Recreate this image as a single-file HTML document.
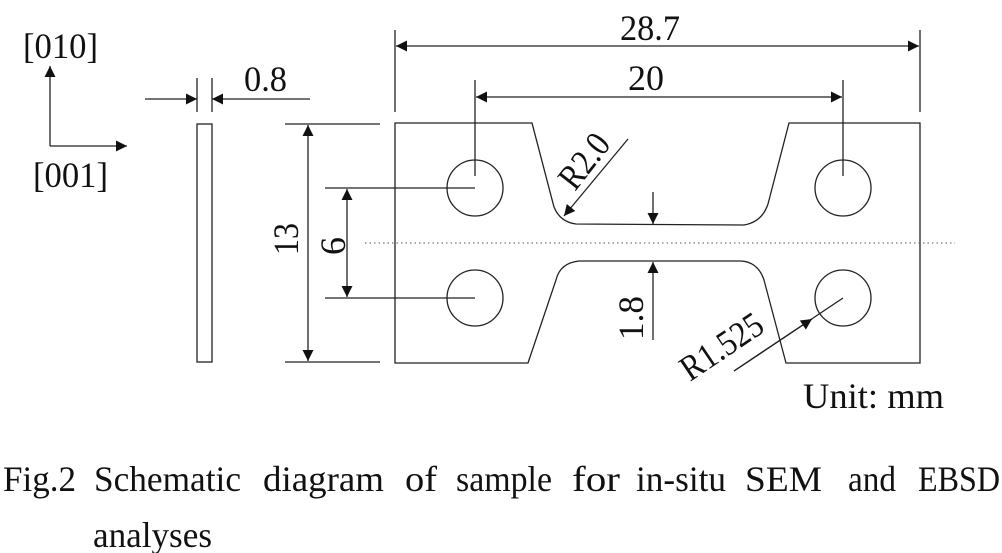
<!DOCTYPE html>
<html><head><meta charset="utf-8"><style>
html,body{margin:0;padding:0;background:#fff}
svg{display:block}
text{font-family:"Liberation Serif","Times New Roman",serif;fill:#111}
</style></head><body>
<svg width="1002" height="553" viewBox="0 0 1002 553" xmlns="http://www.w3.org/2000/svg">
<defs>
<marker id="a" viewBox="0 0 10 10" refX="10" refY="5" markerWidth="16" markerHeight="11" markerUnits="userSpaceOnUse" orient="auto"><path d="M0,0L10,5L0,10z" fill="#111"/></marker>
</defs>
<g stroke="#222" stroke-width="1.3" fill="none">
<line x1="50" y1="146" x2="50" y2="66" marker-end="url(#a)"/>
<line x1="50" y1="146" x2="127" y2="146" marker-end="url(#a)"/>
<rect x="197" y="124" width="15" height="238"/>
<line x1="197" y1="78" x2="197" y2="112"/>
<line x1="212" y1="78" x2="212" y2="112"/>
<line x1="145" y1="99" x2="197" y2="99" marker-end="url(#a)"/>
<line x1="310" y1="99" x2="212" y2="99" marker-end="url(#a)"/>
<line x1="285" y1="124" x2="380" y2="124"/>
<line x1="285" y1="362" x2="380" y2="362"/>
<line x1="308" y1="243" x2="308" y2="125" marker-end="url(#a)"/>
<line x1="308" y1="243" x2="308" y2="361" marker-end="url(#a)"/>
<line x1="325" y1="188" x2="475" y2="188"/>
<line x1="325" y1="298" x2="475" y2="298"/>
<line x1="347" y1="243" x2="347" y2="189" marker-end="url(#a)"/>
<line x1="347" y1="243" x2="347" y2="297" marker-end="url(#a)"/>
<line x1="395" y1="30" x2="395" y2="112"/>
<line x1="920" y1="30" x2="920" y2="112"/>
<line x1="650" y1="46" x2="396" y2="46" marker-end="url(#a)"/>
<line x1="650" y1="46" x2="919" y2="46" marker-end="url(#a)"/>
<line x1="475" y1="80" x2="475" y2="176"/>
<line x1="843" y1="80" x2="843" y2="176"/>
<line x1="650" y1="97" x2="476" y2="97" marker-end="url(#a)"/>
<line x1="650" y1="97" x2="842" y2="97" marker-end="url(#a)"/>
<path d="M395,123 L532,123 L554,207 Q560,222 576,224 L744,225 Q762,222 768,204 L789,123 L920,123 L920,363 L786,363 L764,280 Q758,262 741,261 L579,261 Q560,263 556,280 L528,363 L395,363 Z"/>
<circle cx="475" cy="188" r="28"/>
<circle cx="475" cy="298" r="28"/>
<circle cx="843" cy="188" r="28"/>
<circle cx="843" cy="298" r="28"/>
<line x1="365" y1="243" x2="955" y2="243" stroke-dasharray="1.5 3" stroke-width="1" stroke="#555"/>
<line x1="653" y1="192" x2="653" y2="224" marker-end="url(#a)"/>
<line x1="653" y1="340" x2="653" y2="262" marker-end="url(#a)"/>
<line x1="628" y1="139" x2="564" y2="216" marker-end="url(#a)"/>
<line x1="734" y1="371" x2="843" y2="298"/>
<line x1="734" y1="371" x2="812" y2="319" marker-end="url(#a)"/>
</g>
<g font-size="36">
<text x="23" y="58" textLength="75" lengthAdjust="spacingAndGlyphs">[010]</text>
<text x="33" y="187" textLength="75" lengthAdjust="spacingAndGlyphs">[001]</text>
<text x="244" y="91" textLength="43" lengthAdjust="spacingAndGlyphs">0.8</text>
<text x="620" y="40" textLength="60" lengthAdjust="spacingAndGlyphs">28.7</text>
<text x="628" y="90" textLength="36" lengthAdjust="spacingAndGlyphs">20</text>
<text transform="translate(298,255) rotate(-90)" textLength="32" lengthAdjust="spacingAndGlyphs">13</text>
<text transform="translate(345,255) rotate(-90)" textLength="18" lengthAdjust="spacingAndGlyphs">6</text>
<text transform="translate(643,340) rotate(-90)" textLength="44" lengthAdjust="spacingAndGlyphs">1.8</text>
<text transform="translate(575,192) rotate(-52)" textLength="60" lengthAdjust="spacingAndGlyphs">R2.0</text>
<text transform="translate(690,382) rotate(-34)" textLength="92" lengthAdjust="spacingAndGlyphs">R1.525</text>
<text x="803" y="408" textLength="141" lengthAdjust="spacingAndGlyphs">Unit: mm</text>
</g>
<g font-size="36">
<text x="3" y="491" textLength="73" lengthAdjust="spacingAndGlyphs">Fig.2</text>
<text x="94" y="491" textLength="147" lengthAdjust="spacingAndGlyphs">Schematic</text>
<text x="263" y="491" textLength="121" lengthAdjust="spacingAndGlyphs">diagram</text>
<text x="405" y="491" textLength="32" lengthAdjust="spacingAndGlyphs">of</text>
<text x="456" y="491" textLength="96" lengthAdjust="spacingAndGlyphs">sample</text>
<text x="572" y="491" textLength="48" lengthAdjust="spacingAndGlyphs">for</text>
<text x="636" y="491" textLength="90" lengthAdjust="spacingAndGlyphs">in-situ</text>
<text x="745" y="491" textLength="77" lengthAdjust="spacingAndGlyphs">SEM</text>
<text x="848" y="491" textLength="48" lengthAdjust="spacingAndGlyphs">and</text>
<text x="918" y="491" textLength="82" lengthAdjust="spacingAndGlyphs">EBSD</text>
<text x="93" y="547" textLength="119" lengthAdjust="spacingAndGlyphs">analyses</text>
</g>
</svg>
</body></html>
